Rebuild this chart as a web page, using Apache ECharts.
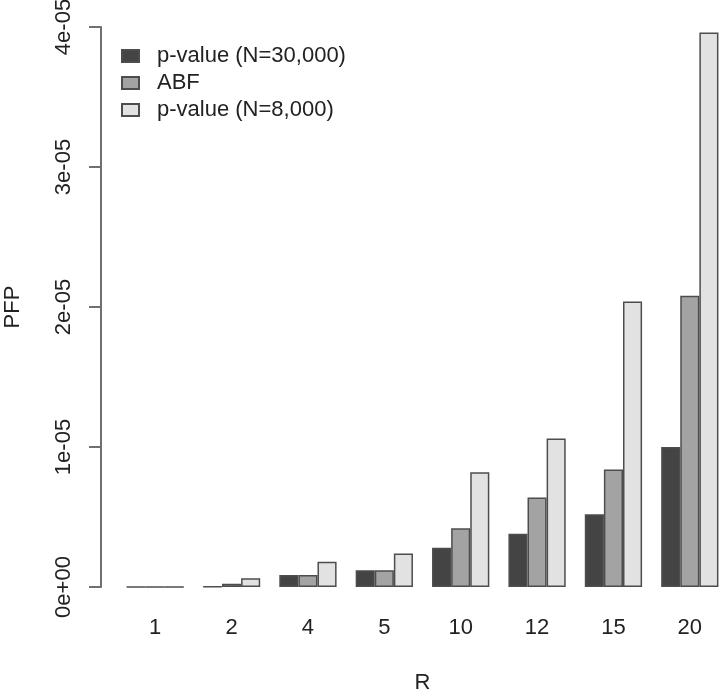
<!DOCTYPE html>
<html>
<head>
<meta charset="utf-8">
<script src="https://cdn.jsdelivr.net/npm/echarts@6/dist/echarts.min.js"></script>
<style>html,body{margin:0;padding:0;background:#fff;}#c{width:720px;height:690px;}</style>
</head>
<body>
<div id="c"></div>
<script>
const categories = ['1', '2', '4', '5', '10', '12', '15', '20'];
const seriesNames = ['p-value (N=30,000)', 'ABF', 'p-value (N=8,000)'];
const pN30000 = [1e-9, 3e-8, 8.6e-7, 1.2e-6, 2.8e-6, 3.8e-6, 5.2e-6, 1.0e-5];
const abf = [1e-9, 2.3e-7, 8.6e-7, 1.2e-6, 4.2e-6, 6.4e-6, 8.4e-6, 2.08e-5];
const pN8000 = [1e-9, 6.2e-7, 1.8e-6, 2.4e-6, 8.2e-6, 1.06e-5, 2.04e-5, 3.96e-5];
const yTickLabels = ['0e+00', '1e-05', '2e-05', '3e-05', '4e-05'];

const fills = ['#444444', '#a3a3a3', '#e2e2e2'];
const font = 'Liberation Sans, Arial, sans-serif';
const chart = echarts.init(document.getElementById('c'), null, {renderer: 'canvas'});
const dataSets = [pN30000, abf, pN8000];
chart.setOption({
  animation: false,
  backgroundColor: '#ffffff',
  textStyle: {fontFamily: font},
  grid: {left: 117, top: 27, width: 611, bottom: 103, containLabel: false, outerBoundsMode: 'none'},
  legend: {
    orient: 'vertical', left: 116, top: 40,
    icon: 'rect',
    itemWidth: 17, itemHeight: 12, itemGap: 5,
    data: seriesNames,
    textStyle: {fontSize: 22, color: '#222', fontFamily: font, lineHeight: 22, padding: [0, 0, 0, 13]}
  },
  xAxis: {
    type: 'category', data: categories,
    name: 'R', nameLocation: 'middle', nameGap: 85,
    nameTextStyle: {fontSize: 22, color: '#222', fontFamily: font},
    axisLine: {show: false}, axisTick: {show: false},
    axisLabel: {fontSize: 22, color: '#222', margin: 30, fontFamily: font}
  },
  yAxis: {
    type: 'value', min: 0, max: 4e-5, interval: 1e-5, offset: 16,
    name: 'PFP', nameLocation: 'middle', nameGap: 77, nameRotate: 90,
    nameTextStyle: {fontSize: 22, color: '#222', fontFamily: font},
    axisLine: {show: true, lineStyle: {color: '#707070', width: 2}},
    axisTick: {show: true, length: 12, lineStyle: {color: '#707070', width: 2}},
    splitLine: {show: false},
    axisLabel: {
      rotate: 90, fontSize: 22, color: '#222', margin: 26, fontFamily: font,
      formatter: function (v) { return yTickLabels[Math.round(v / 1e-5)]; }
    }
  },
  series: seriesNames.map((n, i) => ({
    name: n, type: 'bar', data: dataSets[i],
    barGap: '0%', barCategoryGap: '25%',
    itemStyle: {color: fills[i], borderColor: '#4d4d4d', borderWidth: 1.5}
  }))
});
</script>
</body>
</html>
